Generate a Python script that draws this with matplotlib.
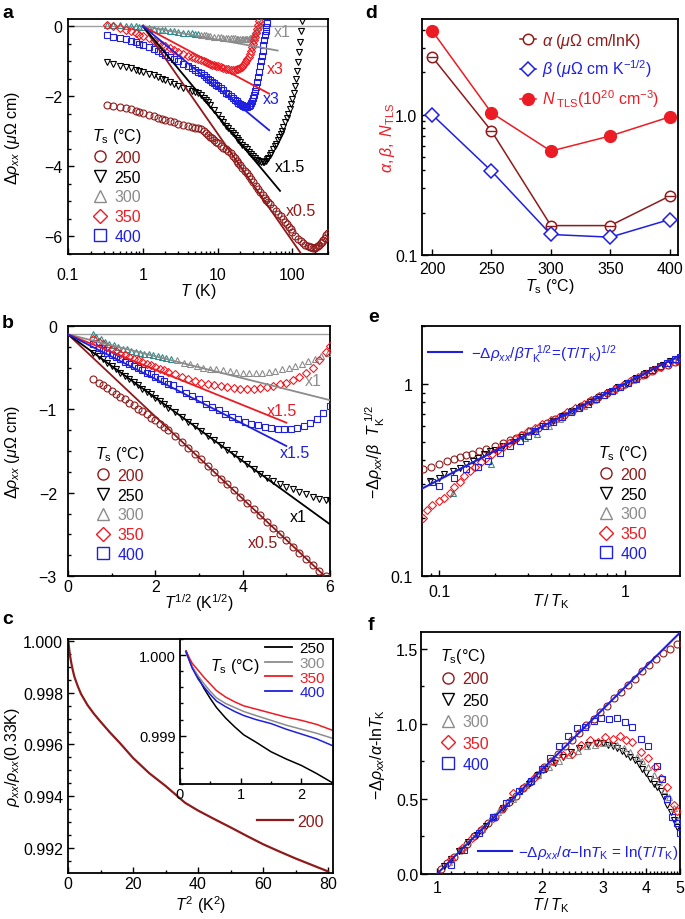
import numpy as np
import matplotlib
matplotlib.use("Agg")
import matplotlib.pyplot as plt
from matplotlib.lines import Line2D
from matplotlib.ticker import (MultipleLocator, FixedLocator, FixedFormatter,
                               LogLocator, NullFormatter, FormatStrFormatter)

plt.rcParams["font.family"] = ["Liberation Sans", "DejaVu Sans"]
plt.rcParams["mathtext.fontset"] = "custom"
plt.rcParams["mathtext.rm"] = "Liberation Sans"
plt.rcParams["mathtext.it"] = "Liberation Sans:italic"
plt.rcParams["mathtext.bf"] = "Liberation Sans:bold"
plt.rcParams["font.size"] = 11.5
plt.rcParams["axes.linewidth"] = 1.3

DARKRED = "#8e1b1b"
RED = "#ec1c24"
BLUE = "#1f1fe0"
GRAY = "#8c8c8c"
TEAL = "#2f8c8c"
BLACK = "black"

ts_labels = ["200", "250", "300", "350", "400"]
ts_colors = {"200": DARKRED, "250": BLACK, "300": GRAY, "350": RED, "400": BLUE}
ts_markers = {"200": "o", "250": "v", "300": "^", "350": "D", "400": "s"}

# ---------------- panel a: delta rho vs T (log) ----------------
a_200 = [(0.33, -2.24), (0.4, -2.27), (0.5, -2.3), (0.6, -2.34), (0.7, -2.38), (0.8, -2.42),
         (0.9, -2.45), (1.0, -2.48), (1.2, -2.53), (1.4, -2.57), (1.6, -2.61), (1.8, -2.64),
         (2.0, -2.67), (2.3, -2.71), (2.6, -2.74), (3.0, -2.78), (3.5, -2.82), (4.0, -2.85),
         (4.5, -2.88), (5.0, -2.9), (5.5, -2.92), (6.0, -2.95), (6.5, -3.0), (7.0, -3.05),
         (7.5, -3.1), (8.0, -3.15), (8.5, -3.2), (9.0, -3.25), (9.5, -3.3), (10, -3.34),
         (11, -3.41), (12, -3.47), (13, -3.52), (14, -3.56), (15, -3.63), (16, -3.7),
         (17, -3.77), (18, -3.84), (19, -3.9), (20, -3.96), (21.5, -4.04), (23, -4.12),
         (24.5, -4.2), (26, -4.28), (28, -4.37), (30, -4.45), (32.5, -4.55), (35, -4.65),
         (37.5, -4.74), (40, -4.82), (42.5, -4.89), (45, -4.96), (47.5, -5.02), (50, -5.08),
         (55, -5.18), (60, -5.27), (65, -5.35), (70, -5.43), (75, -5.5), (80, -5.58),
         (85, -5.65), (90, -5.72), (95, -5.8), (100, -5.86), (110, -5.98), (120, -6.06),
         (130, -6.13), (140, -6.2), (150, -6.24), (160, -6.27), (170, -6.3), (180, -6.31),
         (190, -6.32), (200, -6.32), (210, -6.3), (220, -6.28), (230, -6.24), (240, -6.2),
         (250, -6.15), (260, -6.1), (270, -6.05), (285, -5.97), (300, -5.9)]
a_250 = [(0.33, -1.03), (0.4, -1.08), (0.5, -1.13), (0.6, -1.17), (0.7, -1.21), (0.8, -1.24),
         (0.9, -1.27), (1.0, -1.3), (1.2, -1.36), (1.4, -1.41), (1.6, -1.46), (1.8, -1.5),
         (2.0, -1.54), (2.3, -1.6), (2.6, -1.65), (3.0, -1.71), (3.5, -1.76), (4.0, -1.8),
         (4.5, -1.84), (5.0, -1.88), (5.5, -1.92), (6.0, -1.98), (6.5, -2.04), (7.0, -2.1),
         (7.5, -2.17), (8.0, -2.25), (9.0, -2.4), (10, -2.55), (11, -2.65), (12, -2.75),
         (13, -2.84), (14, -2.92), (15, -2.99), (16, -3.05), (17, -3.12), (18, -3.18),
         (19, -3.24), (20, -3.3), (21.5, -3.38), (23, -3.45), (24.5, -3.52), (26, -3.58),
         (28, -3.65), (30, -3.72), (32, -3.77), (34, -3.81), (36, -3.85), (38, -3.87),
         (40, -3.88), (42, -3.87), (44, -3.85), (46, -3.8), (48, -3.75), (50, -3.68),
         (52, -3.62), (55, -3.52), (58, -3.43), (61, -3.35), (64, -3.25), (67, -3.15),
         (70, -3.07), (73, -2.98), (76, -2.88), (80, -2.75), (84, -2.62), (88, -2.5),
         (92, -2.37), (96, -2.22), (100, -2.08), (104, -1.9), (108, -1.7), (112, -1.5),
         (116, -1.28), (120, -1.02), (124, -0.75), (128, -0.45), (132, -0.15), (136, 0.15)]
a_300_low = [(0.33, 0.04), (0.4, 0.03), (0.5, 0.02), (0.6, 0.01), (0.7, 0.0), (0.8, -0.01),
             (0.9, -0.03), (1.0, -0.04), (1.2, -0.06), (1.4, -0.08), (1.6, -0.1), (1.8, -0.11),
             (2.0, -0.12), (2.3, -0.14), (2.6, -0.15), (3.0, -0.17), (3.5, -0.19), (4.0, -0.2),
             (4.5, -0.21), (5.0, -0.22), (5.5, -0.23)]
a_300_high = [(6, -0.25), (6.5, -0.26), (7, -0.27), (7.5, -0.28), (8, -0.29), (9, -0.3),
              (10, -0.31), (11, -0.32), (12, -0.33), (13, -0.335), (14, -0.34), (15, -0.345),
              (16, -0.35), (17, -0.355), (18, -0.36), (19, -0.365), (20, -0.37), (21, -0.37),
              (22, -0.37), (23, -0.37), (24, -0.37), (25, -0.365), (26, -0.36), (27, -0.35),
              (28, -0.33), (29, -0.31), (30, -0.28), (31, -0.24), (32, -0.2), (33, -0.15),
              (34, -0.1), (35, -0.04), (36, 0.02), (37, 0.08), (38, 0.15)]
a_350 = [(0.33, 0.03), (0.4, 0.0), (0.5, -0.05), (0.6, -0.1), (0.7, -0.15), (0.8, -0.2),
         (0.9, -0.25), (1.0, -0.28), (1.2, -0.35), (1.4, -0.42), (1.6, -0.48), (1.8, -0.53),
         (2.0, -0.57), (2.3, -0.63), (2.6, -0.68), (3.0, -0.74), (3.5, -0.8), (4.0, -0.85),
         (4.5, -0.89), (5.0, -0.92), (5.5, -0.95), (6.0, -0.98), (6.5, -1.0), (7, -1.03),
         (7.5, -1.05), (8, -1.08), (8.5, -1.1), (9, -1.12), (9.5, -1.13), (10, -1.15),
         (11, -1.18), (12, -1.2), (13, -1.22), (14, -1.23), (15, -1.24), (16, -1.24),
         (17, -1.24), (18, -1.23), (19, -1.22), (20, -1.2), (21, -1.16), (22, -1.12),
         (23, -1.06), (24, -1.0), (25, -0.94), (26, -0.88), (27, -0.8), (28, -0.7),
         (29, -0.6), (30, -0.5), (31, -0.4), (32, -0.3), (33, -0.2), (34, -0.08),
         (35, 0.03), (36, 0.15)]
a_400 = [(0.33, -0.27), (0.4, -0.3), (0.5, -0.34), (0.6, -0.38), (0.7, -0.42), (0.8, -0.46),
         (0.9, -0.5), (1.0, -0.53), (1.2, -0.6), (1.4, -0.66), (1.6, -0.72), (1.8, -0.77),
         (2.0, -0.82), (2.3, -0.88), (2.6, -0.94), (3.0, -1.01), (3.5, -1.08), (4.0, -1.14),
         (4.5, -1.2), (5.0, -1.25), (5.5, -1.3), (6.0, -1.35), (6.5, -1.4), (7, -1.45),
         (7.5, -1.5), (8, -1.55), (8.5, -1.59), (9, -1.63), (9.5, -1.67), (10, -1.7),
         (11, -1.77), (12, -1.83), (13, -1.9), (14, -1.95), (15, -2.0), (16, -2.05),
         (17, -2.1), (18, -2.15), (19, -2.19), (20, -2.23), (21, -2.26), (22, -2.28),
         (23, -2.3), (24, -2.31), (25, -2.3), (26, -2.28), (27, -2.25), (28, -2.2),
         (29, -2.13), (30, -2.05), (31, -1.96), (32, -1.85), (33, -1.73), (34, -1.6),
         (35, -1.45), (36, -1.3), (37, -1.15), (38, -1.0), (39, -0.85), (40, -0.7),
         (41, -0.55), (42, -0.4), (43, -0.27), (44, -0.15), (45, -0.02), (46, 0.1)]
a_fits = {"200": [(1, 0), (130, -6.48)], "250": [(1, 0), (68.5, -4.7)],
          "300": [(1, 0), (63.6, -0.7)], "350": [(1, 0), (49, -1.93)],
          "400": [(1, 0), (49, -2.97)]}
a_scale_text = [("x1", 73, -0.17, GRAY), ("x3", 60, -1.22, RED), ("x3", 52, -2.07, BLUE),
                ("x1.5", 93, -4.01, BLACK), ("x0.5", 131, -5.27, DARKRED)]

# ---------------- panel b: delta rho vs T^1/2 ----------------
b_200 = [(0.58, -0.64), (0.7, -0.68), (0.8, -0.71), (0.9, -0.74), (1.0, -0.78), (1.1, -0.81),
         (1.2, -0.85), (1.3, -0.88), (1.4, -0.92), (1.5, -0.95), (1.6, -0.99), (1.7, -1.02),
         (1.8, -1.06), (1.9, -1.1), (2.0, -1.13), (2.1, -1.17), (2.2, -1.21), (2.3, -1.25),
         (2.45, -1.32), (2.6, -1.39), (2.75, -1.46), (2.9, -1.53), (3.05, -1.6), (3.2, -1.68),
         (3.35, -1.75), (3.5, -1.83), (3.65, -1.9), (3.8, -1.97), (3.95, -2.05), (4.1, -2.12),
         (4.25, -2.2), (4.4, -2.27), (4.55, -2.35), (4.7, -2.42), (4.85, -2.5), (5.0, -2.57),
         (5.15, -2.65), (5.3, -2.72), (5.45, -2.8), (5.6, -2.87), (5.75, -2.94), (5.9, -3.0)]
b_250 = [(0.58, -0.32), (0.7, -0.36), (0.8, -0.4), (0.9, -0.44), (1.0, -0.48), (1.1, -0.52),
         (1.2, -0.56), (1.3, -0.6), (1.4, -0.63), (1.5, -0.67), (1.6, -0.71), (1.7, -0.75),
         (1.8, -0.79), (1.9, -0.82), (2.0, -0.86), (2.1, -0.9), (2.2, -0.94), (2.3, -0.98),
         (2.45, -1.03), (2.6, -1.09), (2.75, -1.15), (2.9, -1.2), (3.05, -1.26), (3.2, -1.32),
         (3.35, -1.37), (3.5, -1.43), (3.65, -1.49), (3.8, -1.54), (3.95, -1.6), (4.1, -1.66),
         (4.25, -1.71), (4.4, -1.77), (4.55, -1.82), (4.7, -1.86), (4.85, -1.9), (5.0, -1.93),
         (5.15, -1.96), (5.3, -1.99), (5.45, -2.02), (5.6, -2.05), (5.75, -2.07), (5.9, -2.09),
         (6.0, -2.1)]
b_300_low = [(0.58, -0.1), (0.65, -0.13), (0.75, -0.16), (0.85, -0.19), (0.95, -0.21),
             (1.05, -0.23), (1.15, -0.25), (1.25, -0.27), (1.35, -0.28), (1.45, -0.3),
             (1.55, -0.31), (1.65, -0.32), (1.75, -0.33), (1.85, -0.34), (1.95, -0.35),
             (2.05, -0.36), (2.15, -0.37), (2.25, -0.38), (2.35, -0.39)]
b_300_high = [(2.5, -0.41), (2.65, -0.44), (2.8, -0.46), (2.95, -0.48), (3.1, -0.5), (3.25, -0.51),
              (3.4, -0.52), (3.55, -0.53), (3.7, -0.54), (3.85, -0.55), (4.0, -0.56), (4.15, -0.56),
              (4.3, -0.56), (4.45, -0.56), (4.6, -0.55), (4.75, -0.54), (4.9, -0.52), (5.05, -0.5),
              (5.2, -0.48), (5.35, -0.45), (5.5, -0.42), (5.65, -0.39), (5.8, -0.36), (5.95, -0.32)]
b_350 = [(0.58, -0.16), (0.7, -0.19), (0.8, -0.22), (0.9, -0.25), (1.0, -0.28), (1.1, -0.3),
         (1.2, -0.33), (1.3, -0.35), (1.4, -0.37), (1.5, -0.39), (1.6, -0.41), (1.7, -0.43),
         (1.8, -0.45), (1.9, -0.47), (2.0, -0.49), (2.1, -0.51), (2.2, -0.53), (2.3, -0.55),
         (2.45, -0.58), (2.6, -0.61), (2.75, -0.64), (2.9, -0.66), (3.05, -0.68), (3.2, -0.7),
         (3.35, -0.71), (3.5, -0.72), (3.65, -0.73), (3.8, -0.74), (3.95, -0.75), (4.1, -0.75),
         (4.25, -0.75), (4.4, -0.74), (4.55, -0.73), (4.7, -0.72), (4.85, -0.7), (5.0, -0.68),
         (5.15, -0.65), (5.3, -0.61), (5.45, -0.56), (5.6, -0.5), (5.75, -0.41), (5.9, -0.31),
         (6.0, -0.24)]
b_400 = [(0.58, -0.22), (0.7, -0.26), (0.8, -0.29), (0.9, -0.32), (1.0, -0.35), (1.1, -0.37),
         (1.2, -0.4), (1.3, -0.43), (1.4, -0.45), (1.5, -0.48), (1.6, -0.5), (1.7, -0.53),
         (1.8, -0.56), (1.9, -0.58), (2.0, -0.61), (2.1, -0.63), (2.2, -0.66), (2.3, -0.69),
         (2.4, -0.71), (2.55, -0.75), (2.7, -0.8), (2.85, -0.84), (3.0, -0.88), (3.15, -0.93),
         (3.3, -0.97), (3.45, -1.01), (3.6, -1.05), (3.75, -1.09), (3.9, -1.12), (4.05, -1.15),
         (4.2, -1.17), (4.35, -1.19), (4.5, -1.21), (4.65, -1.22), (4.8, -1.23), (4.95, -1.24),
         (5.1, -1.23), (5.25, -1.22), (5.4, -1.2), (5.55, -1.16), (5.7, -1.11), (5.85, -1.04),
         (6.0, -0.96)]
b_fits = {"200": [(0, -0.1), (6, -3.06)], "250": [(0, -0.1), (6, -2.38)],
          "300": [(0, -0.1), (6, -0.89)], "350": [(0, -0.1), (5, -1.16)],
          "400": [(0, -0.1), (5, -1.44)]}
b_scale_text = [("x1", 5.62, -0.66, GRAY), ("x1.5", 4.89, -1.02, RED), ("x1.5", 5.2, -1.52, BLUE),
                ("x1", 5.27, -2.28, BLACK), ("x0.5", 4.47, -2.6, DARKRED)]

# ---------------- panel c: normalised rho vs T^2 ----------------
c_T2 = [0.11, 0.3, 0.6, 1.0, 1.5, 2, 3, 4, 6, 8, 10, 13, 16, 20, 25, 30, 36, 40, 45, 50,
        55, 60, 65, 70, 75, 80]
c_200 = [1.0, 0.99975, 0.99945, 0.99915, 0.99885, 0.9986, 0.99825, 0.99795, 0.99752, 0.99718,
         0.99688, 0.99645, 0.99605, 0.99548, 0.99489, 0.9944, 0.99375, 0.99345, 0.99312, 0.9928,
         0.99247, 0.99215, 0.99187, 0.9916, 0.99135, 0.9911]
c_in_T2 = [0.1, 0.15, 0.2, 0.3, 0.4, 0.5, 0.6, 0.75, 0.9, 1.05, 1.25, 1.5, 1.75, 2.0, 2.25, 2.5]
c_in = {
    "250": [1.00005, 0.99995, 0.99985, 0.99972, 0.99958, 0.99946, 0.99935, 0.99922, 0.99911,
            0.99901, 0.99892, 0.9988, 0.99871, 0.99863, 0.99853, 0.99842],
    "300": [1.00003, 0.99994, 0.99986, 0.99974, 0.99964, 0.99955, 0.99947, 0.9994, 0.99935,
            0.9993, 0.99925, 0.99919, 0.99913, 0.99908, 0.99903, 0.99897],
    "350": [1.00005, 0.99997, 0.9999, 0.99981, 0.99972, 0.99964, 0.99956, 0.99948, 0.99942,
            0.99937, 0.99933, 0.99928, 0.99923, 0.99919, 0.99914, 0.99907],
    "400": [1.00004, 0.99994, 0.99984, 0.9997, 0.9996, 0.99951, 0.99943, 0.99936, 0.9993,
            0.99925, 0.9992, 0.99915, 0.99908, 0.99902, 0.99896, 0.99888],
}

# ---------------- panel d: fit parameters ----------------
d_ts = [200, 250, 300, 350, 400]
d_alpha = [2.58, 0.764, 0.162, 0.162, 0.263]
d_beta = [1.0, 0.396, 0.14, 0.134, 0.179]
d_ntls = [3.96, 1.03, 0.55, 0.705, 0.963]

# ---------------- panel e: scaled sqrt(T) ----------------
e_200 = [(0.082, 0.36), (0.09, 0.37), (0.1, 0.385), (0.11, 0.396), (0.12, 0.405), (0.13, 0.416),
         (0.14, 0.425), (0.15, 0.434), (0.165, 0.448), (0.18, 0.46), (0.2, 0.477), (0.22, 0.494),
         (0.24, 0.51), (0.26, 0.525), (0.28, 0.54), (0.31, 0.565), (0.34, 0.59), (0.38, 0.625),
         (0.42, 0.655), (0.47, 0.69), (0.52, 0.725), (0.58, 0.765), (0.65, 0.81), (0.72, 0.85),
         (0.8, 0.895), (0.9, 0.95), (1.0, 1.0), (1.12, 1.055), (1.25, 1.11), (1.4, 1.17),
         (1.55, 1.22), (1.7, 1.26), (1.85, 1.3), (1.95, 1.32)]
e_250 = [(0.089, 0.312), (0.1, 0.325), (0.107, 0.338), (0.119, 0.352), (0.13, 0.366),
         (0.14, 0.381), (0.152, 0.397), (0.163, 0.413), (0.175, 0.43), (0.188, 0.448),
         (0.2, 0.455), (0.22, 0.475), (0.25, 0.5), (0.28, 0.53), (0.32, 0.565), (0.36, 0.6),
         (0.41, 0.64), (0.46, 0.68), (0.52, 0.72), (0.58, 0.76), (0.65, 0.805), (0.73, 0.855),
         (0.82, 0.905), (0.92, 0.96), (1.03, 1.015), (1.15, 1.07), (1.3, 1.14), (1.45, 1.2),
         (1.6, 1.26), (1.75, 1.31)]
e_300_low = [(0.119, 0.271), (0.19, 0.381), (0.29, 0.52), (0.335, 0.547)]
e_300_high = [(0.39, 0.6), (0.45, 0.66), (0.52, 0.72), (0.6, 0.77), (0.68, 0.82), (0.77, 0.87),
              (0.87, 0.93), (0.98, 0.99), (1.1, 1.05), (1.25, 1.12)]
e_350 = [(0.082, 0.2), (0.086, 0.22), (0.092, 0.235), (0.1, 0.245), (0.107, 0.255), (0.114, 0.27),
         (0.121, 0.29), (0.129, 0.31), (0.137, 0.33), (0.146, 0.35), (0.157, 0.37), (0.168, 0.39),
         (0.18, 0.41), (0.193, 0.43), (0.207, 0.45), (0.222, 0.47), (0.238, 0.49), (0.255, 0.515),
         (0.275, 0.54), (0.3, 0.565), (0.33, 0.59), (0.36, 0.62), (0.4, 0.645), (0.44, 0.675),
         (0.49, 0.71), (0.54, 0.745), (0.6, 0.785), (0.66, 0.825), (0.73, 0.865), (0.8, 0.9),
         (0.88, 0.94), (0.97, 0.98), (1.07, 1.03), (1.18, 1.08), (1.3, 1.13), (1.43, 1.18),
         (1.57, 1.23), (1.72, 1.28), (1.88, 1.33)]
e_400 = [(0.092, 0.31), (0.1, 0.293), (0.121, 0.325), (0.14, 0.359), (0.163, 0.371),
         (0.184, 0.397), (0.212, 0.435), (0.24, 0.476), (0.272, 0.505), (0.3, 0.535),
         (0.33, 0.565), (0.37, 0.6), (0.41, 0.635), (0.46, 0.675), (0.51, 0.71), (0.57, 0.75),
         (0.63, 0.79), (0.7, 0.835), (0.77, 0.875), (0.85, 0.92), (0.94, 0.965), (1.04, 1.015),
         (1.15, 1.065), (1.27, 1.12), (1.4, 1.175), (1.54, 1.235), (1.69, 1.29), (1.85, 1.345),
         (1.97, 1.38)]
e_fit = [(0.081, 0.285), (1.98, 1.407)]

# ---------------- panel f: scaled log(T) ----------------
f_200 = [(1.03, 0.03), (1.07, 0.07), (1.12, 0.11), (1.17, 0.16), (1.22, 0.2), (1.28, 0.25),
         (1.34, 0.29), (1.4, 0.34), (1.47, 0.38), (1.54, 0.43), (1.61, 0.48), (1.69, 0.52),
         (1.77, 0.57), (1.85, 0.61), (1.94, 0.66), (2.03, 0.71), (2.13, 0.75), (2.23, 0.8),
         (2.34, 0.85), (2.45, 0.89), (2.57, 0.94), (2.69, 0.99), (2.82, 1.03), (2.95, 1.08),
         (3.09, 1.12), (3.24, 1.17), (3.39, 1.21), (3.55, 1.26), (3.72, 1.3), (3.9, 1.35),
         (4.08, 1.39), (4.27, 1.43), (4.47, 1.47), (4.68, 1.5), (4.9, 1.53)]
f_250 = [(1.05, 0.05), (1.1, 0.1), (1.16, 0.15), (1.23, 0.21), (1.3, 0.26), (1.38, 0.32),
         (1.46, 0.38), (1.55, 0.44), (1.64, 0.49), (1.74, 0.55), (1.84, 0.6), (1.95, 0.66),
         (2.06, 0.7), (2.18, 0.74), (2.3, 0.78), (2.43, 0.81), (2.57, 0.84), (2.72, 0.86),
         (2.87, 0.87), (3.0, 0.87), (3.1, 0.86), (3.2, 0.85), (3.3, 0.84), (3.4, 0.82),
         (3.5, 0.8), (3.6, 0.78), (3.7, 0.76), (3.8, 0.73), (3.9, 0.7), (4.0, 0.67),
         (4.1, 0.63), (4.2, 0.6), (4.3, 0.58), (4.4, 0.55), (4.5, 0.51), (4.6, 0.46),
         (4.7, 0.41), (4.8, 0.36), (4.9, 0.31)]
f_300 = [(1.08, 0.08), (1.2, 0.18), (1.35, 0.3), (1.5, 0.41), (1.65, 0.5), (1.8, 0.59),
         (1.95, 0.66), (2.1, 0.71), (2.25, 0.75), (2.4, 0.79), (2.55, 0.82), (2.7, 0.85),
         (2.85, 0.86), (3.0, 0.87), (3.15, 0.87), (3.3, 0.86), (3.45, 0.84), (3.6, 0.81),
         (3.75, 0.78), (3.9, 0.75), (4.05, 0.71), (4.2, 0.66), (4.35, 0.61), (4.5, 0.56),
         (4.65, 0.51), (4.8, 0.44), (4.95, 0.36)]
f_350 = [(1.1, 0.1), (1.18, 0.17), (1.26, 0.24), (1.35, 0.3), (1.45, 0.37), (1.55, 0.44),
         (1.66, 0.54), (1.78, 0.58), (1.9, 0.64), (2.02, 0.7), (2.15, 0.75), (2.3, 0.79),
         (2.45, 0.8), (2.6, 0.86), (2.75, 0.89), (2.9, 0.88), (3.05, 0.91), (3.2, 0.9),
         (3.35, 0.92), (3.5, 0.89), (3.65, 0.88), (3.85, 0.81), (4.05, 0.77), (4.25, 0.71),
         (4.4, 0.64), (4.6, 0.58), (4.8, 0.46), (4.9, 0.42)]
f_400 = [(1.1, 0.06), (1.2, 0.16), (1.32, 0.27), (1.45, 0.38), (1.58, 0.47), (1.72, 0.55),
         (1.86, 0.62), (2.0, 0.7), (2.12, 0.77), (2.25, 0.85), (2.38, 0.92), (2.52, 0.97),
         (2.67, 0.98), (2.82, 1.02), (2.97, 1.04), (3.13, 1.03), (3.3, 1.04), (3.47, 1.01),
         (3.65, 0.98), (3.85, 0.9), (4.05, 0.85), (4.3, 0.72), (4.45, 0.63), (4.6, 0.5),
         (4.75, 0.38), (4.9, 0.34), (5.0, 0.27)]
f_fit = [(1.0, 0.0), (5.0, 1.609)]


def style_axes(ax, xpad=3.5, ypad=3.5):
    ax.tick_params(which="both", direction="in", top=False, right=False, width=1.0)
    ax.tick_params(which="major", length=4.5)
    ax.tick_params(which="minor", length=2.5)
    ax.tick_params(axis="x", pad=xpad)
    ax.tick_params(axis="y", pad=ypad)


def open_pts(ax, pts, key, color=None, ms=5.0):
    arr = np.array(pts)
    col = color if color else ts_colors[key]
    size = ms * 0.85 if ts_markers[key] == "D" else ms
    ax.plot(arr[:, 0], arr[:, 1], ls="none", marker=ts_markers[key], ms=size,
            mfc="none", mec=col, mew=0.8, zorder=3)


def fit_line(ax, pts, color, lw=1.3):
    arr = np.array(pts)
    ax.plot(arr[:, 0], arr[:, 1], color=color, lw=lw, zorder=4)


def ts_legend(ax, anchor, title, spacing):
    handles = [Line2D([], [], ls="none", marker=ts_markers[k],
                      ms=7.0 if ts_markers[k] == "D" else 8.0,
                      mfc="none", mec=ts_colors[k], mew=1.0) for k in ts_labels]
    leg = ax.legend(handles, ts_labels, loc="upper left", bbox_to_anchor=anchor,
                    frameon=False, title=title, alignment="left", handlelength=1.0,
                    handletextpad=0.4, labelspacing=spacing, borderpad=0,
                    borderaxespad=0, fontsize=11.5, title_fontsize=11.5)
    for t, k in zip(leg.get_texts(), ts_labels):
        t.set_color(ts_colors[k])
    return leg


def panel_a(ax):
    ax.axhline(0, color="#a0a0a0", lw=1.0, zorder=1)
    open_pts(ax, a_200, "200")
    open_pts(ax, a_250, "250")
    open_pts(ax, a_300_low, "300", color=TEAL)
    open_pts(ax, a_300_high, "300")
    open_pts(ax, a_350, "350")
    open_pts(ax, a_400, "400")
    for k in ts_labels:
        fit_line(ax, a_fits[k], ts_colors[k])
    for txt, x, y, c in a_scale_text:
        ax.text(x, y, txt, color=c, ha="center", va="center", fontsize=11.5)
    ax.set_xscale("log")
    ax.set_xlim(0.1, 300)
    ax.set_ylim(-6.5, 0.2)
    ax.xaxis.set_major_locator(FixedLocator([0.1, 1, 10, 100]))
    ax.xaxis.set_major_formatter(FixedFormatter(["0.1", "1", "10", "100"]))
    ax.xaxis.set_minor_locator(LogLocator(base=10, subs=np.arange(2, 10)))
    ax.xaxis.set_minor_formatter(NullFormatter())
    ax.yaxis.set_major_locator(MultipleLocator(2))
    ax.yaxis.set_minor_locator(MultipleLocator(0.5))
    style_axes(ax, xpad=9, ypad=4)
    ax.set_xlabel(r"$T$ (K)")
    ax.set_ylabel(r"$\Delta\rho_{xx}$ ($\mu\Omega$ cm)")
    ax.xaxis.set_label_coords(0.5, -0.115)
    ax.yaxis.set_label_coords(-0.178, 0.5)
    ts_legend(ax, (0.092, 0.545), r"$T_{\rm s}$ (°C)", 0.3)


def panel_b(ax):
    ax.axhline(-0.1, color="#a0a0a0", lw=1.0, zorder=1)
    open_pts(ax, b_200, "200")
    open_pts(ax, b_250, "250")
    open_pts(ax, b_300_low, "300", color=TEAL)
    open_pts(ax, b_300_high, "300")
    open_pts(ax, b_350, "350")
    open_pts(ax, b_400, "400")
    for k in ts_labels:
        fit_line(ax, b_fits[k], ts_colors[k])
    for txt, x, y, c in b_scale_text:
        ax.text(x, y, txt, color=c, ha="center", va="center", fontsize=11.5)
    ax.set_xlim(0, 6)
    ax.set_ylim(-3, 0)
    ax.xaxis.set_major_locator(MultipleLocator(2))
    ax.xaxis.set_minor_locator(MultipleLocator(1))
    ax.yaxis.set_major_locator(MultipleLocator(1))
    ax.yaxis.set_minor_locator(MultipleLocator(0.25))
    style_axes(ax, xpad=2, ypad=8)
    ax.set_xlabel(r"$T^{1/2}$ (K$^{1/2}$)")
    ax.set_ylabel(r"$\Delta\rho_{xx}$ ($\mu\Omega$ cm)")
    ax.xaxis.set_label_coords(0.5, -0.062)
    ax.yaxis.set_label_coords(-0.175, 0.5)
    ts_legend(ax, (0.103, 0.528), r"$T_{\rm s}$ (°C)", 0.3)


def panel_c(fig, ax):
    ax.plot(c_T2, c_200, color=DARKRED, lw=1.6)
    ax.set_xlim(0, 81.5)
    ax.set_ylim(0.99104, 1.00007)
    ax.xaxis.set_major_locator(MultipleLocator(20))
    ax.xaxis.set_minor_locator(MultipleLocator(10))
    ax.yaxis.set_major_locator(MultipleLocator(0.002))
    ax.yaxis.set_minor_locator(MultipleLocator(0.0005))
    ax.yaxis.set_major_formatter(FormatStrFormatter("%.3f"))
    style_axes(ax, xpad=2.5, ypad=3.5)
    ax.set_xlabel(r"$T^2$ (K$^2$)")
    ax.set_ylabel(r"$\rho_{xx}/\rho_{xx}$(0.33K)")
    ax.xaxis.set_label_coords(0.5, -0.088)
    ax.yaxis.set_label_coords(-0.175, 0.5)
    leg = ax.legend([Line2D([], [], color=DARKRED, lw=1.6)], ["200"], loc="center left",
                    bbox_to_anchor=(0.713, 0.222), frameon=False, handlelength=2.25,
                    handletextpad=0.25, borderpad=0, borderaxespad=0, fontsize=11.5)
    leg.get_texts()[0].set_color(DARKRED)

    ins = fig.add_axes([180 / 685, 1 - 785 / 920, 153 / 685, 145 / 920])
    for k in ["250", "300", "350", "400"]:
        ins.plot(c_in_T2, c_in[k], color=ts_colors[k], lw=1.1)
    ins.set_xlim(0, 2.52)
    ins.set_ylim(0.9984, 1.0002)
    ins.xaxis.set_major_locator(MultipleLocator(1))
    ins.xaxis.set_minor_locator(MultipleLocator(0.5))
    ins.yaxis.set_major_locator(MultipleLocator(0.001))
    ins.yaxis.set_minor_locator(MultipleLocator(0.0002))
    ins.yaxis.set_major_formatter(FormatStrFormatter("%.3f"))
    ins.tick_params(labelsize=10.5)
    style_axes(ins, xpad=2.5, ypad=3)
    ins.text(0.36, 0.814, r"$T_{\rm s}$ (°C)", transform=ins.transAxes, ha="center",
             va="center", fontsize=11.5)
    hs = [Line2D([], [], color=ts_colors[k], lw=1.3) for k in ["250", "300", "350", "400"]]
    ileg = ins.legend(hs, ["250", "300", "350", "400"], loc="upper left",
                      bbox_to_anchor=(0.556, 0.985), frameon=False, handlelength=1.75,
                      handletextpad=0.5, labelspacing=0.05, borderpad=0, borderaxespad=0,
                      fontsize=11)
    for t, k in zip(ileg.get_texts(), ["250", "300", "350", "400"]):
        t.set_color(ts_colors[k])


def panel_d(ax):
    ax.plot(d_ts, d_ntls, color=RED, lw=1.1, marker="o", ms=8.5, mfc=RED, mec=RED, zorder=3)
    ax.plot(d_ts, d_alpha, color=DARKRED, lw=1.1, marker="o", ms=7.5, mfc="white",
            mec=DARKRED, mew=1.1, zorder=4)
    ax.plot(d_ts, d_alpha, ls="none", marker="_", ms=7, mec=DARKRED, mew=1.0, zorder=5)
    ax.plot(d_ts, d_beta, color=BLUE, lw=1.1, marker="D", ms=7, mfc="white",
            mec=BLUE, mew=1.1, zorder=4)
    ax.set_yscale("log")
    ax.set_xlim(191.5, 407)
    ax.set_ylim(0.1, 4.8)
    ax.xaxis.set_major_locator(FixedLocator(d_ts))
    ax.yaxis.set_major_locator(FixedLocator([0.1, 1.0]))
    ax.yaxis.set_major_formatter(FixedFormatter(["0.1", "1.0"]))
    ax.yaxis.set_minor_locator(LogLocator(base=10, subs=np.arange(2, 10)))
    ax.yaxis.set_minor_formatter(NullFormatter())
    style_axes(ax, xpad=4.5, ypad=3.5)
    ax.set_xlabel(r"$T_{\rm s}$ (°C)")
    ax.set_ylabel(r"$\alpha,\beta,\ N_{\rm TLS}$", color=RED)
    ax.xaxis.set_label_coords(0.5, -0.09)
    ax.yaxis.set_label_coords(-0.098, 0.5)
    hs = [Line2D([], [], color=DARKRED, lw=1.1, marker="o", ms=7.5, mfc="white", mec=DARKRED, mew=1.1),
          Line2D([], [], color=BLUE, lw=1.1, marker="D", ms=7, mfc="white", mec=BLUE, mew=1.1),
          Line2D([], [], color=RED, lw=1.1, marker="o", ms=8.5, mfc=RED, mec=RED)]
    labs = [r"$\alpha$ ($\mu\Omega$ cm/lnK)", r"$\beta$ ($\mu\Omega$ cm K$^{-1/2}$)",
            r"$N_{\rm \ TLS}$(10$^{20}$ cm$^{-3}$)"]
    leg = ax.legend(hs, labs, loc="upper left", bbox_to_anchor=(0.383, 0.95), frameon=False,
                    handlelength=1.0, handletextpad=0.35, labelspacing=0.5, borderpad=0,
                    borderaxespad=0, fontsize=11.5)
    for t, c in zip(leg.get_texts(), [DARKRED, BLUE, RED]):
        t.set_color(c)


def panel_e(ax):
    open_pts(ax, e_200, "200")
    open_pts(ax, e_250, "250")
    open_pts(ax, e_300_low, "300", color=TEAL)
    open_pts(ax, e_300_high, "300")
    open_pts(ax, e_350, "350")
    open_pts(ax, e_400, "400")
    fit_line(ax, e_fit, BLUE, lw=1.5)
    ax.set_xscale("log")
    ax.set_yscale("log")
    ax.set_xlim(0.081, 1.98)
    ax.set_ylim(0.1, 2.0)
    for axis in (ax.xaxis, ax.yaxis):
        axis.set_major_locator(FixedLocator([0.1, 1]))
        axis.set_major_formatter(FixedFormatter(["0.1", "1"]))
        axis.set_minor_locator(LogLocator(base=10, subs=np.arange(2, 10)))
        axis.set_minor_formatter(NullFormatter())
    style_axes(ax, xpad=6, ypad=7)
    ax.set_xlabel(r"$T\,/\,T_{\rm K}$")
    ax.set_ylabel(r"$-\Delta\rho_{xx}/\beta\ \ T_{\rm K}^{\ 1/2}$")
    ax.xaxis.set_label_coords(0.5, -0.062)
    ax.yaxis.set_label_coords(-0.136, 0.5)
    fl = ax.legend([Line2D([], [], color=BLUE, lw=1.5)],
                   [r"$-\Delta\rho_{xx}/\beta T_{\rm K}^{\ 1/2}$=$(T/T_{\rm K})^{1/2}$"],
                   loc="center left", bbox_to_anchor=(0.023, 0.892), frameon=False,
                   handlelength=2.2, handletextpad=0.6, borderpad=0, borderaxespad=0,
                   fontsize=11)
    fl.get_texts()[0].set_color(BLUE)
    ax.add_artist(fl)
    ts_legend(ax, (0.682, 0.532), r"$T_{\rm s}$ (°C)", 0.3)


def panel_f(ax):
    open_pts(ax, f_200, "200")
    open_pts(ax, f_250, "250")
    open_pts(ax, f_300, "300")
    open_pts(ax, f_350, "350")
    open_pts(ax, f_400, "400")
    fit_line(ax, f_fit, BLUE, lw=1.5)
    ax.set_xscale("log")
    ax.set_xlim(0.9, 5.0)
    ax.set_ylim(0, 1.613)
    ax.xaxis.set_major_locator(FixedLocator([1, 2, 3, 4, 5]))
    ax.xaxis.set_major_formatter(FixedFormatter(["1", "2", "3", "4", "5"]))
    minors = [v / 10 for v in range(9, 50) if v % 10 != 0]
    ax.xaxis.set_minor_locator(FixedLocator(minors))
    ax.xaxis.set_minor_formatter(NullFormatter())
    ax.yaxis.set_major_locator(MultipleLocator(0.5))
    ax.yaxis.set_minor_locator(MultipleLocator(0.25))
    ax.yaxis.set_major_formatter(FormatStrFormatter("%.1f"))
    style_axes(ax, xpad=4.5, ypad=2)
    ax.set_xlabel(r"$T\,/\,T_{\rm K}$")
    ax.set_ylabel(r"$-\Delta\rho_{xx}/\alpha$-ln$T_{\rm K}$")
    ax.xaxis.set_label_coords(0.5, -0.09)
    ax.yaxis.set_label_coords(-0.131, 0.5)
    fl = ax.legend([Line2D([], [], color=BLUE, lw=1.5)],
                   [r"$-\Delta\rho_{xx}/\alpha$$-$ln$T_{\rm K}$ = ln($T/T_{\rm K}$)"],
                   loc="center left", bbox_to_anchor=(0.22, 0.091), frameon=False,
                   handlelength=2.2, handletextpad=0.4, borderpad=0, borderaxespad=0,
                   fontsize=11)
    fl.get_texts()[0].set_color(BLUE)
    ax.add_artist(fl)
    ts_legend(ax, (0.073, 0.942), r"$T_{\rm s}$(°C)", 0.4)


def main() -> None:
    fig = plt.figure(figsize=(6.85, 9.2), dpi=100)
    W, H = 685.0, 920.0

    def rect(x0, y0, x1, y1):
        return [x0 / W, 1 - y1 / H, (x1 - x0) / W, (y1 - y0) / H]

    ax_a = fig.add_axes(rect(68, 20, 328, 255))
    ax_d = fig.add_axes(rect(422, 20, 678, 256))
    ax_b = fig.add_axes(rect(68, 327, 330, 577))
    ax_e = fig.add_axes(rect(422, 327, 680, 577))
    ax_c = fig.add_axes(rect(68, 640, 333, 874))
    ax_f = fig.add_axes(rect(421, 633, 680, 875))

    panel_a(ax_a)
    panel_b(ax_b)
    panel_c(fig, ax_c)
    panel_d(ax_d)
    panel_e(ax_e)
    panel_f(ax_f)

    for letter, x, y in [("a", 2, 13), ("d", 365, 13), ("b", 2, 323),
                         ("e", 368, 318), ("c", 2, 620), ("f", 368, 626)]:
        fig.text(x / W, 1 - y / H, letter, fontsize=14, fontweight="bold",
                 ha="left", va="center")

    fig.savefig("out.png", dpi=100)


if __name__ == "__main__":
    main()
